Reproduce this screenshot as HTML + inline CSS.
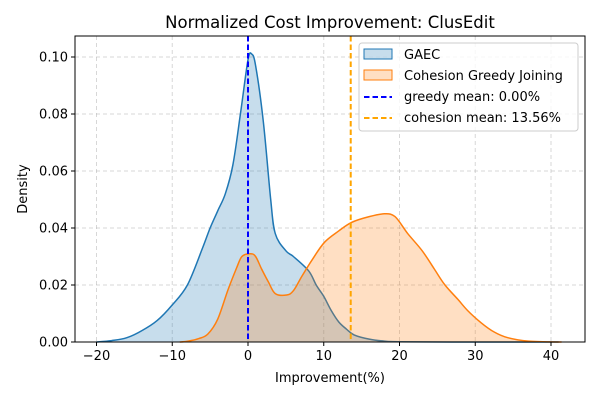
<!DOCTYPE html>
<html><head><meta charset="utf-8"><style>
body{margin:0;background:#fff;}
svg{display:block;font-family:"DejaVu Sans","Liberation Sans",sans-serif;}
</style></head><body>
<svg id="chart" width="600" height="400">
<text x="330" y="28" text-anchor="middle" font-size="16.5" fill="#000">Normalized Cost Improvement: ClusEdit</text>
<text x="330" y="382" text-anchor="middle" font-size="13" fill="#000">Improvement(%)</text>
<text x="27" y="189" text-anchor="middle" font-size="13" fill="#000" transform="rotate(-90 27 189)">Density</text>
<g id="grid"></g><g id="marks"></g><g id="axes"></g>
<g>
<rect x="359" y="43" width="219" height="88" rx="3" fill="#fff" fill-opacity="0.8" stroke="#ccc"/>
<g><rect x="364" y="49" width="28" height="10" fill="#1f77b4" fill-opacity="0.25" stroke="#1f77b4"/><text x="404" y="59" font-size="13">GAEC</text></g>
<g><rect x="364" y="70" width="28" height="10" fill="#ff7f0e" fill-opacity="0.25" stroke="#ff7f0e"/><text x="404" y="80" font-size="13">Cohesion Greedy Joining</text></g>
<g><line x1="364" y1="97" x2="392" y2="97" stroke="blue" stroke-width="2" stroke-dasharray="5.5,3"/><text x="404" y="101" font-size="13">greedy mean: 0.00%</text></g>
<g><line x1="364" y1="118" x2="392" y2="118" stroke="orange" stroke-width="2" stroke-dasharray="5.5,3"/><text x="404" y="122" font-size="13">cohesion mean: 13.56%</text></g>
</g>
</svg>
<script>
const xTicks=[-20,-10,0,10,20,30,40];
const yTicks=[0,0.02,0.04,0.06,0.08,0.10];
const gaecX=[-20,-18,-16,-14,-12,-10,-8,-6,-5,-4,-3,-2,-1,0,0.5,1,2,3,3.6,5,6,8,9,10,11,12,13,14,16,18,20,30,41];
const gaecY=[0,0.0005,0.0015,0.004,0.0075,0.013,0.02,0.033,0.04,0.046,0.052,0.062,0.08,0.099,0.101,0.097,0.078,0.05,0.038,0.032,0.030,0.025,0.02,0.016,0.011,0.007,0.0045,0.0025,0.001,0.0003,0.0001,0,0];
const cohX=[-9,-7.9,-6.5,-5.3,-4,-2.6,-1.5,-0.8,0.3,1,1.8,2.7,3.6,5.1,6,7.1,8.5,10.1,12,13.7,16,18,19.4,21.1,23,24.6,26,27.7,29,30.8,32.5,34.3,37,41.4];
const cohY=[0,0.0003,0.0012,0.0028,0.008,0.0186,0.026,0.030,0.031,0.030,0.0256,0.021,0.017,0.0165,0.018,0.023,0.029,0.035,0.039,0.042,0.044,0.045,0.044,0.038,0.032,0.0256,0.020,0.015,0.011,0.0067,0.0035,0.0015,0.0003,0];
const greedyMean=0.00, cohesionMean=13.56;
const L=75,R=585,T=36,B=342;
const xs=v=>248+(v)*7.575;
const ys=v=>342-v*2850;
const NS="http://www.w3.org/2000/svg";
function mk(tag,parent,attrs){const e=document.createElementNS(NS,tag);for(const k in attrs)e.setAttribute(k,attrs[k]);document.getElementById(parent).appendChild(e);return e;}
xTicks.forEach(t=>{
 const g=mk('line','grid',{x1:xs(t),x2:xs(t),y1:T,y2:B,stroke:'#b0b0b0','stroke-opacity':0.5,'stroke-dasharray':'4,3'});
 
 
 const tk=mk('line','axes',{x1:xs(t),x2:xs(t),y1:B,y2:B+4,stroke:'#000'});
 
 
 const tx=mk('text','axes',{x:xs(t),y:B+18,'text-anchor':'middle','font-size':13});
 tx.textContent=(t<0?'\u2212'+(-t):t);
 
 
});
yTicks.forEach(t=>{
 const g=mk('line','grid',{x1:L,x2:R,y1:ys(t),y2:ys(t),stroke:'#b0b0b0','stroke-opacity':0.5,'stroke-dasharray':'4,3'});
 
 
 const tk=mk('line','axes',{x1:L-4,x2:L,y1:ys(t),y2:ys(t),stroke:'#000'});
 
 
 const tx=mk('text','axes',{x:L-7,y:ys(t)+4.5,'text-anchor':'end','font-size':13});
 tx.textContent=t.toFixed(2);
 
 
});
function smooth(X,Y){
 const P=X.map((x,i)=>[xs(x),ys(Y[i])]);
 let d='M'+P[0][0].toFixed(1)+','+P[0][1].toFixed(1);
 for(let i=0;i<P.length-1;i++){
  const p0=P[Math.max(0,i-1)],p1=P[i],p2=P[i+1],p3=P[Math.min(P.length-1,i+2)];
  const t=1/6;
  let c1=[p1[0]+(p2[0]-p0[0])*t,p1[1]+(p2[1]-p0[1])*t];
  let c2=[p2[0]-(p3[0]-p1[0])*t,p2[1]-(p3[1]-p1[1])*t];
  c1[1]=Math.min(c1[1],B);c2[1]=Math.min(c2[1],B);
  d+=' C'+c1[0].toFixed(1)+','+c1[1].toFixed(1)+' '+c2[0].toFixed(1)+','+c2[1].toFixed(1)+' '+p2[0].toFixed(1)+','+p2[1].toFixed(1);
 }
 return d;
}
function area(X,Y,color,name){
 const d=smooth(X,Y);
 const a=mk('path','marks',{d:d+' L'+xs(X[X.length-1])+','+ys(0)+' L'+xs(X[0])+','+ys(0)+' Z',fill:color,'fill-opacity':0.25,stroke:'none'});
 
 
 const l=mk('path','marks',{d:d,fill:'none',stroke:color,'stroke-width':1.5,'stroke-linejoin':'round'});
 
 
}
area(gaecX,gaecY,'#1f77b4','gaec-density');
area(cohX,cohY,'#ff7f0e','cohesion-density');
const m1=mk('line','marks',{x1:xs(greedyMean),x2:xs(greedyMean),y1:T,y2:B,stroke:'blue','stroke-width':2,'stroke-dasharray':'5.5,3'});


const m2=mk('line','marks',{x1:xs(cohesionMean),x2:xs(cohesionMean),y1:T,y2:B,stroke:'orange','stroke-width':2,'stroke-dasharray':'5.5,3'});


const fr=mk('rect','axes',{x:L,y:T,width:R-L,height:B-T,fill:'none',stroke:'#000','stroke-width':1});


</script>
</body></html>
